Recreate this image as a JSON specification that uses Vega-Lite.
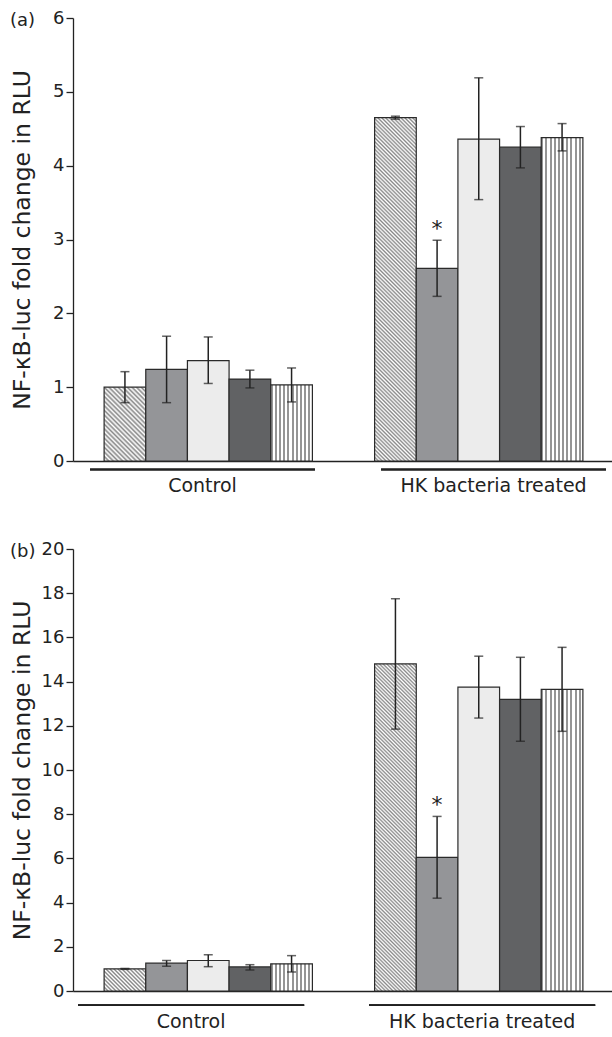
{
  "$schema": "https://vega.github.io/schema/vega-lite/v6.json",
  "background": "white",
  "padding": {"left": 10, "top": 9, "right": 0, "bottom": 0},
  "config": {
    "font": "DejaVu Sans",
    "view": {"stroke": null},
    "axis": {"grid": false, "domainColor": "#222222", "tickColor": "#222222", "labelColor": "#222222", "titleColor": "#222222"}
  },
  "spacing": 45,
  "datasets": {
    "a": [
      {"group": "Control", "series": "A", "mean": 1.00, "lo": 0.79, "hi": 1.21, "sig": ""},
      {"group": "Control", "series": "B", "mean": 1.24, "lo": 0.79, "hi": 1.69, "sig": ""},
      {"group": "Control", "series": "C", "mean": 1.36, "lo": 1.05, "hi": 1.68, "sig": ""},
      {"group": "Control", "series": "D", "mean": 1.11, "lo": 0.99, "hi": 1.23, "sig": ""},
      {"group": "Control", "series": "E", "mean": 1.03, "lo": 0.80, "hi": 1.26, "sig": ""},
      {"group": "HK bacteria treated", "series": "A", "mean": 4.65, "lo": 4.63, "hi": 4.67, "sig": ""},
      {"group": "HK bacteria treated", "series": "B", "mean": 2.61, "lo": 2.23, "hi": 2.99, "sig": "*"},
      {"group": "HK bacteria treated", "series": "C", "mean": 4.36, "lo": 3.54, "hi": 5.19, "sig": ""},
      {"group": "HK bacteria treated", "series": "D", "mean": 4.25, "lo": 3.97, "hi": 4.53, "sig": ""},
      {"group": "HK bacteria treated", "series": "E", "mean": 4.38, "lo": 4.20, "hi": 4.57, "sig": ""}
    ],
    "b": [
      {"group": "Control", "series": "A", "mean": 1.00, "lo": 0.98, "hi": 1.02, "sig": ""},
      {"group": "Control", "series": "B", "mean": 1.26, "lo": 1.12, "hi": 1.38, "sig": ""},
      {"group": "Control", "series": "C", "mean": 1.38, "lo": 1.10, "hi": 1.64, "sig": ""},
      {"group": "Control", "series": "D", "mean": 1.09, "lo": 0.95, "hi": 1.19, "sig": ""},
      {"group": "Control", "series": "E", "mean": 1.23, "lo": 0.86, "hi": 1.60, "sig": ""},
      {"group": "HK bacteria treated", "series": "A", "mean": 14.8, "lo": 11.85, "hi": 17.75, "sig": ""},
      {"group": "HK bacteria treated", "series": "B", "mean": 6.05, "lo": 4.2, "hi": 7.9, "sig": "*"},
      {"group": "HK bacteria treated", "series": "C", "mean": 13.75, "lo": 12.35, "hi": 15.15, "sig": ""},
      {"group": "HK bacteria treated", "series": "D", "mean": 13.2, "lo": 11.3, "hi": 15.1, "sig": ""},
      {"group": "HK bacteria treated", "series": "E", "mean": 13.65, "lo": 11.75, "hi": 15.55, "sig": ""}
    ]
  },
  "vconcat": [
    {
      "width": 541,
      "height": 443,
      "title": {"text": "(a)", "anchor": "start", "frame": "bounds", "fontSize": 18, "fontWeight": "normal", "color": "#222222", "baseline": "middle", "offset": -30},
      "data": {"name": "a"},
      "layer": [
        {
          "encoding": {
            "x": {"field": "group", "type": "nominal", "scale": {"domain": ["Control", "HK bacteria treated"], "paddingInner": 0.23, "paddingOuter": 0.115}, "axis": {"orient": "bottom", "title": null, "labels": false, "ticks": false, "domainWidth": 1.3}},
            "xOffset": {"field": "series", "type": "nominal", "scale": {"domain": ["A", "B", "C", "D", "E"], "paddingInner": 0, "paddingOuter": 0}}
          },
          "layer": [
            {
              "mark": {"type": "bar", "stroke": "#2a2a2a", "strokeWidth": 1.2},
              "encoding": {
                "y": {"field": "mean", "type": "quantitative", "scale": {"domain": [0, 6], "nice": false}, "axis": {"values": [0, 1, 2, 3, 4, 5, 6], "format": "d", "title": "NF-κB-luc fold change in RLU", "titleFontSize": 23.5, "titleFontWeight": "normal", "titleX": -44, "titleBaseline": "alphabetic", "labelFontSize": 18, "tickSize": 7, "tickWidth": 1.3, "domainWidth": 1.3, "labelPadding": 2}},
                "fill": {
                  "condition": [
                    {"test": "datum.series === 'A' && datum.group === 'Control'", "value": {"gradient": "linear", "x1": 0, "y1": 1, "x2": 0.6698, "y2": -0.1864, "stops": [{"offset":0,"color":"#888"},{"offset":0.02,"color":"#fff"},{"offset":0.04,"color":"#888"},{"offset":0.06,"color":"#fff"},{"offset":0.08,"color":"#888"},{"offset":0.1,"color":"#fff"},{"offset":0.12,"color":"#888"},{"offset":0.14,"color":"#fff"},{"offset":0.16,"color":"#888"},{"offset":0.18,"color":"#fff"},{"offset":0.2,"color":"#888"},{"offset":0.22,"color":"#fff"},{"offset":0.24,"color":"#888"},{"offset":0.26,"color":"#fff"},{"offset":0.28,"color":"#888"},{"offset":0.3,"color":"#fff"},{"offset":0.32,"color":"#888"},{"offset":0.34,"color":"#fff"},{"offset":0.36,"color":"#888"},{"offset":0.38,"color":"#fff"},{"offset":0.4,"color":"#888"},{"offset":0.42,"color":"#fff"},{"offset":0.44,"color":"#888"},{"offset":0.46,"color":"#fff"},{"offset":0.48,"color":"#888"},{"offset":0.5,"color":"#fff"},{"offset":0.52,"color":"#888"},{"offset":0.54,"color":"#fff"},{"offset":0.56,"color":"#888"},{"offset":0.58,"color":"#fff"},{"offset":0.6,"color":"#888"},{"offset":0.62,"color":"#fff"},{"offset":0.64,"color":"#888"},{"offset":0.66,"color":"#fff"},{"offset":0.68,"color":"#888"},{"offset":0.7,"color":"#fff"},{"offset":0.72,"color":"#888"},{"offset":0.74,"color":"#fff"},{"offset":0.76,"color":"#888"},{"offset":0.78,"color":"#fff"},{"offset":0.8,"color":"#888"},{"offset":0.82,"color":"#fff"},{"offset":0.84,"color":"#888"},{"offset":0.86,"color":"#fff"},{"offset":0.88,"color":"#888"},{"offset":0.9,"color":"#fff"},{"offset":0.92,"color":"#888"},{"offset":0.94,"color":"#fff"},{"offset":0.96,"color":"#888"},{"offset":0.98,"color":"#fff"},{"offset":1,"color":"#888"}]}},
                    {"test": "datum.series === 'A'", "value": {"gradient": "linear", "x1": 0, "y1": 1, "x2": 0.1341, "y2": -0.1051, "stops": [{"offset":0,"color":"#888"},{"offset":0.005,"color":"#fff"},{"offset":0.01,"color":"#888"},{"offset":0.015,"color":"#fff"},{"offset":0.02,"color":"#888"},{"offset":0.025,"color":"#fff"},{"offset":0.03,"color":"#888"},{"offset":0.035,"color":"#fff"},{"offset":0.04,"color":"#888"},{"offset":0.045,"color":"#fff"},{"offset":0.05,"color":"#888"},{"offset":0.055,"color":"#fff"},{"offset":0.06,"color":"#888"},{"offset":0.065,"color":"#fff"},{"offset":0.07,"color":"#888"},{"offset":0.075,"color":"#fff"},{"offset":0.08,"color":"#888"},{"offset":0.085,"color":"#fff"},{"offset":0.09,"color":"#888"},{"offset":0.095,"color":"#fff"},{"offset":0.1,"color":"#888"},{"offset":0.105,"color":"#fff"},{"offset":0.11,"color":"#888"},{"offset":0.115,"color":"#fff"},{"offset":0.12,"color":"#888"},{"offset":0.125,"color":"#fff"},{"offset":0.13,"color":"#888"},{"offset":0.135,"color":"#fff"},{"offset":0.14,"color":"#888"},{"offset":0.145,"color":"#fff"},{"offset":0.15,"color":"#888"},{"offset":0.155,"color":"#fff"},{"offset":0.16,"color":"#888"},{"offset":0.165,"color":"#fff"},{"offset":0.17,"color":"#888"},{"offset":0.175,"color":"#fff"},{"offset":0.18,"color":"#888"},{"offset":0.185,"color":"#fff"},{"offset":0.19,"color":"#888"},{"offset":0.195,"color":"#fff"},{"offset":0.2,"color":"#888"},{"offset":0.205,"color":"#fff"},{"offset":0.21,"color":"#888"},{"offset":0.215,"color":"#fff"},{"offset":0.22,"color":"#888"},{"offset":0.225,"color":"#fff"},{"offset":0.23,"color":"#888"},{"offset":0.235,"color":"#fff"},{"offset":0.24,"color":"#888"},{"offset":0.245,"color":"#fff"},{"offset":0.25,"color":"#888"},{"offset":0.255,"color":"#fff"},{"offset":0.26,"color":"#888"},{"offset":0.265,"color":"#fff"},{"offset":0.27,"color":"#888"},{"offset":0.275,"color":"#fff"},{"offset":0.28,"color":"#888"},{"offset":0.285,"color":"#fff"},{"offset":0.29,"color":"#888"},{"offset":0.295,"color":"#fff"},{"offset":0.3,"color":"#888"},{"offset":0.305,"color":"#fff"},{"offset":0.31,"color":"#888"},{"offset":0.315,"color":"#fff"},{"offset":0.32,"color":"#888"},{"offset":0.325,"color":"#fff"},{"offset":0.33,"color":"#888"},{"offset":0.335,"color":"#fff"},{"offset":0.34,"color":"#888"},{"offset":0.345,"color":"#fff"},{"offset":0.35,"color":"#888"},{"offset":0.355,"color":"#fff"},{"offset":0.36,"color":"#888"},{"offset":0.365,"color":"#fff"},{"offset":0.37,"color":"#888"},{"offset":0.375,"color":"#fff"},{"offset":0.38,"color":"#888"},{"offset":0.385,"color":"#fff"},{"offset":0.39,"color":"#888"},{"offset":0.395,"color":"#fff"},{"offset":0.4,"color":"#888"},{"offset":0.405,"color":"#fff"},{"offset":0.41,"color":"#888"},{"offset":0.415,"color":"#fff"},{"offset":0.42,"color":"#888"},{"offset":0.425,"color":"#fff"},{"offset":0.43,"color":"#888"},{"offset":0.435,"color":"#fff"},{"offset":0.44,"color":"#888"},{"offset":0.445,"color":"#fff"},{"offset":0.45,"color":"#888"},{"offset":0.455,"color":"#fff"},{"offset":0.46,"color":"#888"},{"offset":0.465,"color":"#fff"},{"offset":0.47,"color":"#888"},{"offset":0.475,"color":"#fff"},{"offset":0.48,"color":"#888"},{"offset":0.485,"color":"#fff"},{"offset":0.49,"color":"#888"},{"offset":0.495,"color":"#fff"},{"offset":0.5,"color":"#888"},{"offset":0.505,"color":"#fff"},{"offset":0.51,"color":"#888"},{"offset":0.515,"color":"#fff"},{"offset":0.52,"color":"#888"},{"offset":0.525,"color":"#fff"},{"offset":0.53,"color":"#888"},{"offset":0.535,"color":"#fff"},{"offset":0.54,"color":"#888"},{"offset":0.545,"color":"#fff"},{"offset":0.55,"color":"#888"},{"offset":0.555,"color":"#fff"},{"offset":0.56,"color":"#888"},{"offset":0.565,"color":"#fff"},{"offset":0.57,"color":"#888"},{"offset":0.575,"color":"#fff"},{"offset":0.58,"color":"#888"},{"offset":0.585,"color":"#fff"},{"offset":0.59,"color":"#888"},{"offset":0.595,"color":"#fff"},{"offset":0.6,"color":"#888"},{"offset":0.605,"color":"#fff"},{"offset":0.61,"color":"#888"},{"offset":0.615,"color":"#fff"},{"offset":0.62,"color":"#888"},{"offset":0.625,"color":"#fff"},{"offset":0.63,"color":"#888"},{"offset":0.635,"color":"#fff"},{"offset":0.64,"color":"#888"},{"offset":0.645,"color":"#fff"},{"offset":0.65,"color":"#888"},{"offset":0.655,"color":"#fff"},{"offset":0.66,"color":"#888"},{"offset":0.665,"color":"#fff"},{"offset":0.67,"color":"#888"},{"offset":0.675,"color":"#fff"},{"offset":0.68,"color":"#888"},{"offset":0.685,"color":"#fff"},{"offset":0.69,"color":"#888"},{"offset":0.695,"color":"#fff"},{"offset":0.7,"color":"#888"},{"offset":0.705,"color":"#fff"},{"offset":0.71,"color":"#888"},{"offset":0.715,"color":"#fff"},{"offset":0.72,"color":"#888"},{"offset":0.725,"color":"#fff"},{"offset":0.73,"color":"#888"},{"offset":0.735,"color":"#fff"},{"offset":0.74,"color":"#888"},{"offset":0.745,"color":"#fff"},{"offset":0.75,"color":"#888"},{"offset":0.755,"color":"#fff"},{"offset":0.76,"color":"#888"},{"offset":0.765,"color":"#fff"},{"offset":0.77,"color":"#888"},{"offset":0.775,"color":"#fff"},{"offset":0.78,"color":"#888"},{"offset":0.785,"color":"#fff"},{"offset":0.79,"color":"#888"},{"offset":0.795,"color":"#fff"},{"offset":0.8,"color":"#888"},{"offset":0.805,"color":"#fff"},{"offset":0.81,"color":"#888"},{"offset":0.815,"color":"#fff"},{"offset":0.82,"color":"#888"},{"offset":0.825,"color":"#fff"},{"offset":0.83,"color":"#888"},{"offset":0.835,"color":"#fff"},{"offset":0.84,"color":"#888"},{"offset":0.845,"color":"#fff"},{"offset":0.85,"color":"#888"},{"offset":0.855,"color":"#fff"},{"offset":0.86,"color":"#888"},{"offset":0.865,"color":"#fff"},{"offset":0.87,"color":"#888"},{"offset":0.875,"color":"#fff"},{"offset":0.88,"color":"#888"},{"offset":0.885,"color":"#fff"},{"offset":0.89,"color":"#888"},{"offset":0.895,"color":"#fff"},{"offset":0.9,"color":"#888"},{"offset":0.905,"color":"#fff"},{"offset":0.91,"color":"#888"},{"offset":0.915,"color":"#fff"},{"offset":0.92,"color":"#888"},{"offset":0.925,"color":"#fff"},{"offset":0.93,"color":"#888"},{"offset":0.935,"color":"#fff"},{"offset":0.94,"color":"#888"},{"offset":0.945,"color":"#fff"},{"offset":0.95,"color":"#888"},{"offset":0.955,"color":"#fff"},{"offset":0.96,"color":"#888"},{"offset":0.965,"color":"#fff"},{"offset":0.97,"color":"#888"},{"offset":0.975,"color":"#fff"},{"offset":0.98,"color":"#888"},{"offset":0.985,"color":"#fff"},{"offset":0.99,"color":"#888"},{"offset":0.995,"color":"#fff"},{"offset":1,"color":"#888"}]}},
                    {"test": "datum.series === 'E'", "value": {"gradient": "linear", "x1": 0, "y1": 0, "x2": 1, "y2": 0, "stops": [{"offset":0,"color":"#959595"},{"offset":0.05,"color":"#959595"},{"offset":0.05,"color":"#ffffff"},{"offset":0.1,"color":"#ffffff"},{"offset":0.1,"color":"#959595"},{"offset":0.15,"color":"#959595"},{"offset":0.15,"color":"#ffffff"},{"offset":0.2,"color":"#ffffff"},{"offset":0.2,"color":"#959595"},{"offset":0.25,"color":"#959595"},{"offset":0.25,"color":"#ffffff"},{"offset":0.3,"color":"#ffffff"},{"offset":0.3,"color":"#959595"},{"offset":0.35,"color":"#959595"},{"offset":0.35,"color":"#ffffff"},{"offset":0.4,"color":"#ffffff"},{"offset":0.4,"color":"#959595"},{"offset":0.45,"color":"#959595"},{"offset":0.45,"color":"#ffffff"},{"offset":0.5,"color":"#ffffff"},{"offset":0.5,"color":"#959595"},{"offset":0.55,"color":"#959595"},{"offset":0.55,"color":"#ffffff"},{"offset":0.6,"color":"#ffffff"},{"offset":0.6,"color":"#959595"},{"offset":0.65,"color":"#959595"},{"offset":0.65,"color":"#ffffff"},{"offset":0.7,"color":"#ffffff"},{"offset":0.7,"color":"#959595"},{"offset":0.75,"color":"#959595"},{"offset":0.75,"color":"#ffffff"},{"offset":0.8,"color":"#ffffff"},{"offset":0.8,"color":"#959595"},{"offset":0.85,"color":"#959595"},{"offset":0.85,"color":"#ffffff"},{"offset":0.9,"color":"#ffffff"},{"offset":0.9,"color":"#959595"},{"offset":0.95,"color":"#959595"},{"offset":0.95,"color":"#ffffff"},{"offset":1,"color":"#ffffff"}]}}
                  ],
                  "field": "series", "type": "nominal",
                  "scale": {"domain": ["A", "B", "C", "D", "E"], "range": ["#cbcbcb", "#949598", "#ececec", "#616264", "#ffffff"]},
                  "legend": null
                }
              }
            },
            {
              "mark": {"type": "rule", "color": "#222222", "strokeWidth": 1.5},
              "encoding": {"y": {"field": "lo", "type": "quantitative"}, "y2": {"field": "hi"}}
            },
            {
              "mark": {"type": "tick", "color": "#222222", "thickness": 1.5, "size": 9, "orient": "horizontal"},
              "encoding": {"y": {"field": "lo", "type": "quantitative"}}
            },
            {
              "mark": {"type": "tick", "color": "#222222", "thickness": 1.5, "size": 9, "orient": "horizontal"},
              "encoding": {"y": {"field": "hi", "type": "quantitative"}}
            },
            {
              "transform": [{"filter": "datum.sig !== ''"}],
              "mark": {"type": "text", "fontSize": 22, "dy": -11, "baseline": "middle", "fill": "#222222"},
              "encoding": {"y": {"field": "hi", "type": "quantitative"}, "text": {"field": "sig"}}
            }
          ]
        },
        {
          "mark": {"type": "rule", "color": "#222222", "strokeWidth": 1.3},
          "encoding": {
            "x": {"field": "group", "type": "nominal", "bandPosition": 0, "scale": {"domain": ["Control", "HK bacteria treated"], "paddingInner": 0.227, "paddingOuter": 0.043, "align": 0.68}, "axis": {"orient": "bottom", "title": null, "domain": false, "ticks": false, "labelFontSize": 19, "labelAngle": 0, "labelPadding": 15, "labelBaseline": "top", "labelLimit": 400}},
            "x2": {"field": "group", "bandPosition": 1},
            "y": {"datum": -0.115, "type": "quantitative", "scale": {"domain": [0, 6], "nice": false}}
          }
        }
      ],
      "resolve": {"scale": {"x": "independent"}, "axis": {"x": "independent"}}
    },
    {
      "width": 541,
      "height": 442,
      "title": {"text": "(b)", "anchor": "start", "frame": "bounds", "fontSize": 18, "fontWeight": "normal", "color": "#222222", "baseline": "middle", "offset": -30},
      "data": {"name": "b"},
      "layer": [
        {
          "encoding": {
            "x": {"field": "group", "type": "nominal", "scale": {"domain": ["Control", "HK bacteria treated"], "paddingInner": 0.23, "paddingOuter": 0.115}, "axis": {"orient": "bottom", "title": null, "labels": false, "ticks": false, "domainWidth": 1.3}},
            "xOffset": {"field": "series", "type": "nominal", "scale": {"domain": ["A", "B", "C", "D", "E"], "paddingInner": 0, "paddingOuter": 0}}
          },
          "layer": [
            {
              "mark": {"type": "bar", "stroke": "#2a2a2a", "strokeWidth": 1.2},
              "encoding": {
                "y": {"field": "mean", "type": "quantitative", "scale": {"domain": [0, 20], "nice": false}, "axis": {"values": [0, 2, 4, 6, 8, 10, 12, 14, 16, 18, 20], "format": "d", "title": "NF-κB-luc fold change in RLU", "titleFontSize": 23.5, "titleFontWeight": "normal", "titleX": -44, "titleBaseline": "alphabetic", "labelFontSize": 18, "tickSize": 7, "tickWidth": 1.3, "domainWidth": 1.3, "labelPadding": 2}},
                "fill": {
                  "condition": [
                    {"test": "datum.series === 'A' && datum.group === 'Control'", "value": {"gradient": "linear", "x1": 0, "y1": 1, "x2": 1.1944, "y2": 0.3664, "stops": [{"offset":0,"color":"#888"},{"offset":0.03125,"color":"#fff"},{"offset":0.0625,"color":"#888"},{"offset":0.09375,"color":"#fff"},{"offset":0.125,"color":"#888"},{"offset":0.15625,"color":"#fff"},{"offset":0.1875,"color":"#888"},{"offset":0.21875,"color":"#fff"},{"offset":0.25,"color":"#888"},{"offset":0.28125,"color":"#fff"},{"offset":0.3125,"color":"#888"},{"offset":0.34375,"color":"#fff"},{"offset":0.375,"color":"#888"},{"offset":0.40625,"color":"#fff"},{"offset":0.4375,"color":"#888"},{"offset":0.46875,"color":"#fff"},{"offset":0.5,"color":"#888"},{"offset":0.53125,"color":"#fff"},{"offset":0.5625,"color":"#888"},{"offset":0.59375,"color":"#fff"},{"offset":0.625,"color":"#888"},{"offset":0.65625,"color":"#fff"},{"offset":0.6875,"color":"#888"},{"offset":0.71875,"color":"#fff"},{"offset":0.75,"color":"#888"},{"offset":0.78125,"color":"#fff"},{"offset":0.8125,"color":"#888"},{"offset":0.84375,"color":"#fff"},{"offset":0.875,"color":"#888"},{"offset":0.90625,"color":"#fff"},{"offset":0.9375,"color":"#888"},{"offset":0.96875,"color":"#fff"},{"offset":1,"color":"#888"}]}},
                    {"test": "datum.series === 'A'", "value": {"gradient": "linear", "x1": 0, "y1": 1, "x2": 0.1413, "y2": -0.1094, "stops": [{"offset":0,"color":"#888"},{"offset":0.005,"color":"#fff"},{"offset":0.01,"color":"#888"},{"offset":0.015,"color":"#fff"},{"offset":0.02,"color":"#888"},{"offset":0.025,"color":"#fff"},{"offset":0.03,"color":"#888"},{"offset":0.035,"color":"#fff"},{"offset":0.04,"color":"#888"},{"offset":0.045,"color":"#fff"},{"offset":0.05,"color":"#888"},{"offset":0.055,"color":"#fff"},{"offset":0.06,"color":"#888"},{"offset":0.065,"color":"#fff"},{"offset":0.07,"color":"#888"},{"offset":0.075,"color":"#fff"},{"offset":0.08,"color":"#888"},{"offset":0.085,"color":"#fff"},{"offset":0.09,"color":"#888"},{"offset":0.095,"color":"#fff"},{"offset":0.1,"color":"#888"},{"offset":0.105,"color":"#fff"},{"offset":0.11,"color":"#888"},{"offset":0.115,"color":"#fff"},{"offset":0.12,"color":"#888"},{"offset":0.125,"color":"#fff"},{"offset":0.13,"color":"#888"},{"offset":0.135,"color":"#fff"},{"offset":0.14,"color":"#888"},{"offset":0.145,"color":"#fff"},{"offset":0.15,"color":"#888"},{"offset":0.155,"color":"#fff"},{"offset":0.16,"color":"#888"},{"offset":0.165,"color":"#fff"},{"offset":0.17,"color":"#888"},{"offset":0.175,"color":"#fff"},{"offset":0.18,"color":"#888"},{"offset":0.185,"color":"#fff"},{"offset":0.19,"color":"#888"},{"offset":0.195,"color":"#fff"},{"offset":0.2,"color":"#888"},{"offset":0.205,"color":"#fff"},{"offset":0.21,"color":"#888"},{"offset":0.215,"color":"#fff"},{"offset":0.22,"color":"#888"},{"offset":0.225,"color":"#fff"},{"offset":0.23,"color":"#888"},{"offset":0.235,"color":"#fff"},{"offset":0.24,"color":"#888"},{"offset":0.245,"color":"#fff"},{"offset":0.25,"color":"#888"},{"offset":0.255,"color":"#fff"},{"offset":0.26,"color":"#888"},{"offset":0.265,"color":"#fff"},{"offset":0.27,"color":"#888"},{"offset":0.275,"color":"#fff"},{"offset":0.28,"color":"#888"},{"offset":0.285,"color":"#fff"},{"offset":0.29,"color":"#888"},{"offset":0.295,"color":"#fff"},{"offset":0.3,"color":"#888"},{"offset":0.305,"color":"#fff"},{"offset":0.31,"color":"#888"},{"offset":0.315,"color":"#fff"},{"offset":0.32,"color":"#888"},{"offset":0.325,"color":"#fff"},{"offset":0.33,"color":"#888"},{"offset":0.335,"color":"#fff"},{"offset":0.34,"color":"#888"},{"offset":0.345,"color":"#fff"},{"offset":0.35,"color":"#888"},{"offset":0.355,"color":"#fff"},{"offset":0.36,"color":"#888"},{"offset":0.365,"color":"#fff"},{"offset":0.37,"color":"#888"},{"offset":0.375,"color":"#fff"},{"offset":0.38,"color":"#888"},{"offset":0.385,"color":"#fff"},{"offset":0.39,"color":"#888"},{"offset":0.395,"color":"#fff"},{"offset":0.4,"color":"#888"},{"offset":0.405,"color":"#fff"},{"offset":0.41,"color":"#888"},{"offset":0.415,"color":"#fff"},{"offset":0.42,"color":"#888"},{"offset":0.425,"color":"#fff"},{"offset":0.43,"color":"#888"},{"offset":0.435,"color":"#fff"},{"offset":0.44,"color":"#888"},{"offset":0.445,"color":"#fff"},{"offset":0.45,"color":"#888"},{"offset":0.455,"color":"#fff"},{"offset":0.46,"color":"#888"},{"offset":0.465,"color":"#fff"},{"offset":0.47,"color":"#888"},{"offset":0.475,"color":"#fff"},{"offset":0.48,"color":"#888"},{"offset":0.485,"color":"#fff"},{"offset":0.49,"color":"#888"},{"offset":0.495,"color":"#fff"},{"offset":0.5,"color":"#888"},{"offset":0.505,"color":"#fff"},{"offset":0.51,"color":"#888"},{"offset":0.515,"color":"#fff"},{"offset":0.52,"color":"#888"},{"offset":0.525,"color":"#fff"},{"offset":0.53,"color":"#888"},{"offset":0.535,"color":"#fff"},{"offset":0.54,"color":"#888"},{"offset":0.545,"color":"#fff"},{"offset":0.55,"color":"#888"},{"offset":0.555,"color":"#fff"},{"offset":0.56,"color":"#888"},{"offset":0.565,"color":"#fff"},{"offset":0.57,"color":"#888"},{"offset":0.575,"color":"#fff"},{"offset":0.58,"color":"#888"},{"offset":0.585,"color":"#fff"},{"offset":0.59,"color":"#888"},{"offset":0.595,"color":"#fff"},{"offset":0.6,"color":"#888"},{"offset":0.605,"color":"#fff"},{"offset":0.61,"color":"#888"},{"offset":0.615,"color":"#fff"},{"offset":0.62,"color":"#888"},{"offset":0.625,"color":"#fff"},{"offset":0.63,"color":"#888"},{"offset":0.635,"color":"#fff"},{"offset":0.64,"color":"#888"},{"offset":0.645,"color":"#fff"},{"offset":0.65,"color":"#888"},{"offset":0.655,"color":"#fff"},{"offset":0.66,"color":"#888"},{"offset":0.665,"color":"#fff"},{"offset":0.67,"color":"#888"},{"offset":0.675,"color":"#fff"},{"offset":0.68,"color":"#888"},{"offset":0.685,"color":"#fff"},{"offset":0.69,"color":"#888"},{"offset":0.695,"color":"#fff"},{"offset":0.7,"color":"#888"},{"offset":0.705,"color":"#fff"},{"offset":0.71,"color":"#888"},{"offset":0.715,"color":"#fff"},{"offset":0.72,"color":"#888"},{"offset":0.725,"color":"#fff"},{"offset":0.73,"color":"#888"},{"offset":0.735,"color":"#fff"},{"offset":0.74,"color":"#888"},{"offset":0.745,"color":"#fff"},{"offset":0.75,"color":"#888"},{"offset":0.755,"color":"#fff"},{"offset":0.76,"color":"#888"},{"offset":0.765,"color":"#fff"},{"offset":0.77,"color":"#888"},{"offset":0.775,"color":"#fff"},{"offset":0.78,"color":"#888"},{"offset":0.785,"color":"#fff"},{"offset":0.79,"color":"#888"},{"offset":0.795,"color":"#fff"},{"offset":0.8,"color":"#888"},{"offset":0.805,"color":"#fff"},{"offset":0.81,"color":"#888"},{"offset":0.815,"color":"#fff"},{"offset":0.82,"color":"#888"},{"offset":0.825,"color":"#fff"},{"offset":0.83,"color":"#888"},{"offset":0.835,"color":"#fff"},{"offset":0.84,"color":"#888"},{"offset":0.845,"color":"#fff"},{"offset":0.85,"color":"#888"},{"offset":0.855,"color":"#fff"},{"offset":0.86,"color":"#888"},{"offset":0.865,"color":"#fff"},{"offset":0.87,"color":"#888"},{"offset":0.875,"color":"#fff"},{"offset":0.88,"color":"#888"},{"offset":0.885,"color":"#fff"},{"offset":0.89,"color":"#888"},{"offset":0.895,"color":"#fff"},{"offset":0.9,"color":"#888"},{"offset":0.905,"color":"#fff"},{"offset":0.91,"color":"#888"},{"offset":0.915,"color":"#fff"},{"offset":0.92,"color":"#888"},{"offset":0.925,"color":"#fff"},{"offset":0.93,"color":"#888"},{"offset":0.935,"color":"#fff"},{"offset":0.94,"color":"#888"},{"offset":0.945,"color":"#fff"},{"offset":0.95,"color":"#888"},{"offset":0.955,"color":"#fff"},{"offset":0.96,"color":"#888"},{"offset":0.965,"color":"#fff"},{"offset":0.97,"color":"#888"},{"offset":0.975,"color":"#fff"},{"offset":0.98,"color":"#888"},{"offset":0.985,"color":"#fff"},{"offset":0.99,"color":"#888"},{"offset":0.995,"color":"#fff"},{"offset":1,"color":"#888"}]}},
                    {"test": "datum.series === 'E'", "value": {"gradient": "linear", "x1": 0, "y1": 0, "x2": 1, "y2": 0, "stops": [{"offset":0,"color":"#959595"},{"offset":0.05,"color":"#959595"},{"offset":0.05,"color":"#ffffff"},{"offset":0.1,"color":"#ffffff"},{"offset":0.1,"color":"#959595"},{"offset":0.15,"color":"#959595"},{"offset":0.15,"color":"#ffffff"},{"offset":0.2,"color":"#ffffff"},{"offset":0.2,"color":"#959595"},{"offset":0.25,"color":"#959595"},{"offset":0.25,"color":"#ffffff"},{"offset":0.3,"color":"#ffffff"},{"offset":0.3,"color":"#959595"},{"offset":0.35,"color":"#959595"},{"offset":0.35,"color":"#ffffff"},{"offset":0.4,"color":"#ffffff"},{"offset":0.4,"color":"#959595"},{"offset":0.45,"color":"#959595"},{"offset":0.45,"color":"#ffffff"},{"offset":0.5,"color":"#ffffff"},{"offset":0.5,"color":"#959595"},{"offset":0.55,"color":"#959595"},{"offset":0.55,"color":"#ffffff"},{"offset":0.6,"color":"#ffffff"},{"offset":0.6,"color":"#959595"},{"offset":0.65,"color":"#959595"},{"offset":0.65,"color":"#ffffff"},{"offset":0.7,"color":"#ffffff"},{"offset":0.7,"color":"#959595"},{"offset":0.75,"color":"#959595"},{"offset":0.75,"color":"#ffffff"},{"offset":0.8,"color":"#ffffff"},{"offset":0.8,"color":"#959595"},{"offset":0.85,"color":"#959595"},{"offset":0.85,"color":"#ffffff"},{"offset":0.9,"color":"#ffffff"},{"offset":0.9,"color":"#959595"},{"offset":0.95,"color":"#959595"},{"offset":0.95,"color":"#ffffff"},{"offset":1,"color":"#ffffff"}]}}
                  ],
                  "field": "series", "type": "nominal",
                  "scale": {"domain": ["A", "B", "C", "D", "E"], "range": ["#cbcbcb", "#949598", "#ececec", "#616264", "#ffffff"]},
                  "legend": null
                }
              }
            },
            {
              "mark": {"type": "rule", "color": "#222222", "strokeWidth": 1.5},
              "encoding": {"y": {"field": "lo", "type": "quantitative"}, "y2": {"field": "hi"}}
            },
            {
              "mark": {"type": "tick", "color": "#222222", "thickness": 1.5, "size": 9, "orient": "horizontal"},
              "encoding": {"y": {"field": "lo", "type": "quantitative"}}
            },
            {
              "mark": {"type": "tick", "color": "#222222", "thickness": 1.5, "size": 9, "orient": "horizontal"},
              "encoding": {"y": {"field": "hi", "type": "quantitative"}}
            },
            {
              "transform": [{"filter": "datum.sig !== ''"}],
              "mark": {"type": "text", "fontSize": 22, "dy": -11, "baseline": "middle", "fill": "#222222"},
              "encoding": {"y": {"field": "hi", "type": "quantitative"}, "text": {"field": "sig"}}
            }
          ]
        },
        {
          "mark": {"type": "rule", "color": "#222222", "strokeWidth": 1.3},
          "encoding": {
            "x": {"field": "group", "type": "nominal", "bandPosition": 0, "scale": {"domain": ["Control", "HK bacteria treated"], "paddingInner": 0.223, "paddingOuter": 0.041, "align": 0.21}, "axis": {"orient": "bottom", "title": null, "domain": false, "ticks": false, "labelFontSize": 19, "labelAngle": 0, "labelPadding": 21, "labelBaseline": "top", "labelLimit": 400}},
            "x2": {"field": "group", "bandPosition": 1},
            "y": {"datum": -0.64, "type": "quantitative", "scale": {"domain": [0, 20], "nice": false}}
          }
        }
      ],
      "resolve": {"scale": {"x": "independent"}, "axis": {"x": "independent"}}
    }
  ]
}
